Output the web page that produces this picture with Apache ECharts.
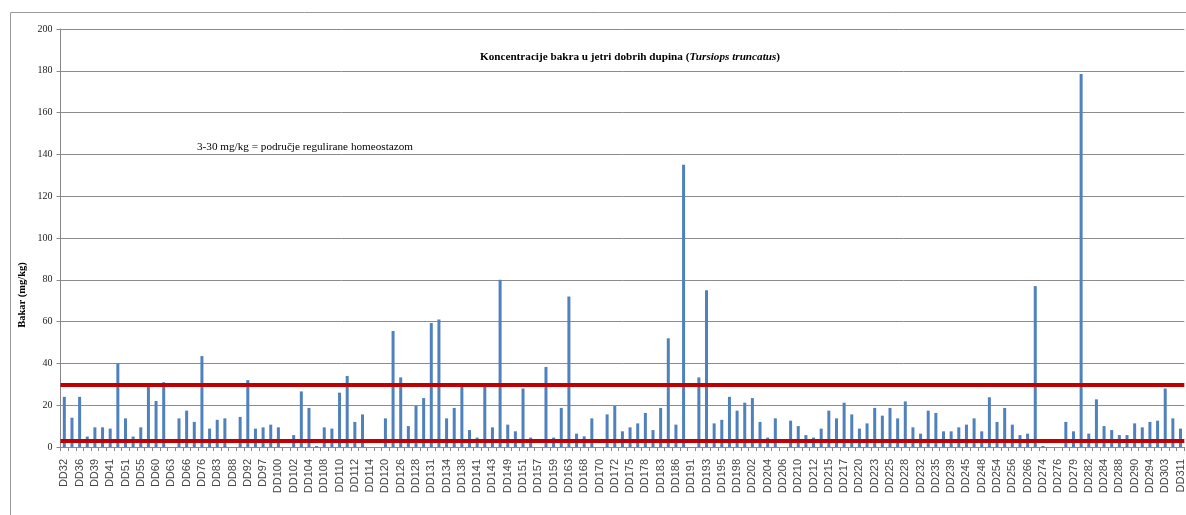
<!DOCTYPE html>
<html><head><meta charset="utf-8">
<script src="https://cdn.jsdelivr.net/npm/echarts@6/dist/echarts.min.js"></script>
<style>html,body{margin:0;padding:0;background:#fff}#c{width:1186px;height:515px}</style>
</head><body><div id="c"></div>
<script>
const categories = [
'DD32','DD34','DD36','DD38','DD39','DD40','DD41','DD45','DD51','DD53','DD55','DD58','DD60','DD61','DD63','DD65','DD66','DD70','DD76','DD80','DD83','DD85','DD88','DD90','DD92','DD95','DD97','DD99',
'DD100','DD101','DD102','DD103','DD104','DD106','DD108','DD109','DD110','DD111','DD112','DD113','DD114','DD117','DD120','DD123','DD126','DD127','DD128','DD130','DD131','DD132','DD134','DD136','DD138','DD140','DD141','DD142','DD143','DD146','DD149','DD150',
'DD151','DD154','DD157','DD158','DD159','DD161','DD163','DD166','DD168','DD169','DD170','DD171','DD172','DD174','DD175','DD177','DD178','DD180','DD183','DD185','DD186','DD189','DD191','DD192','DD193','DD194','DD195','DD197','DD198','DD200',
'DD202','DD203','DD204','DD205','DD206','DD208','DD210','DD211','DD212','DD214','DD215','DD216','DD217','DD219','DD220','DD222','DD223','DD224','DD225','DD227','DD228','DD230','DD232','DD234','DD235','DD237','DD239','DD242','DD245','DD247','DD248','DD250',
'DD254','DD255','DD256','DD260','DD266','DD270','DD274','DD275','DD276','DD278','DD279','DD281','DD282','DD283','DD284','DD286','DD288','DD289','DD290','DD292','DD294','DD300','DD303','DD307','DD311'
];
const copper = [
24,14,24,5,9.4,9.4,8.8,40,13.7,5,9.4,29,22,31,null,13.7,17.4,12,43.5,8.8,13,13.7,null,14.4,32,8.8,9.4,10.7,
9.4,null,5.7,26.6,18.7,0.5,9.4,8.8,26,34,12,15.6,null,null,13.7,55.5,33.3,10,19.6,23.4,59.3,61,13.7,18.7,29,8.1,4.5,29,9.4,80,10.7,7.5,
28,4.5,null,38.3,4.5,18.7,72,6.4,5.1,13.7,null,15.6,19.6,7.5,9.4,11.3,16.3,8.1,18.7,52,10.7,135,null,33.3,75,11.3,13,24,17.4,21.2,
23.4,12,4.5,13.7,null,12.6,10,5.7,4.5,8.8,17.4,13.7,21.2,15.6,8.8,11.3,18.7,15,18.7,13.7,21.8,9.4,6.4,17.4,16.3,7.5,7.5,9.4,10.7,13.7,
7.5,23.8,12,18.7,10.7,5.7,6.4,77,0.5,null,null,12,7.5,178.5,6.4,22.8,10,8.1,5.7,5.7,11.3,9.4,12,12.6,28,13.7,8.8
];
const yTicks = {min:0, max:200, step:20};
const homeostasis = [3, 30];
const titleMain = 'Koncentracije bakra u jetri dobrih dupina (';
const titleSpecies = 'Tursiops truncatus';
const noteText = '3-30 mg/kg = područje regulirane homeostazom';
const yName = 'Bakar (mg/kg)';

const chart = echarts.init(document.getElementById('c'), null, {renderer:'canvas'});
const serif = 'Liberation Serif';
chart.setOption({
  animation:false,
  backgroundColor:'#fff',
  title:{
    text:'{b|'+titleMain+'}{i|'+titleSpecies+'}{b|)}',
    left:625, top:47, textAlign:'center',
    textStyle:{rich:{
      b:{fontFamily:serif,fontWeight:'bold',fontSize:11.2,color:'#000'},
      i:{fontFamily:serif,fontWeight:'bold',fontStyle:'italic',fontSize:11.2,color:'#000'}
    }}
  },
  graphic:[
    {type:'rect',shape:{x:10.5,y:12.5,width:1200,height:520},style:{fill:'none',stroke:'#999',lineWidth:1},silent:true,z:-1},
    {type:'text',x:197,y:142,style:{text:noteText,font:'11.2px "Liberation Serif"',fill:'#000'}},
    {type:'text',x:22,y:295,rotation:Math.PI/2,style:{text:yName,font:'bold 10.5px "Liberation Serif"',fill:'#000',align:'center',verticalAlign:'middle'}}
  ],
  grid:{left:60.5,right:-2,top:29,bottom:68,containLabel:false},
  xAxis:{
    type:'category',data:categories,
    axisLine:{lineStyle:{color:'#888'}},
    axisTick:{show:true,length:4,lineStyle:{color:'#888'},interval:0},
    axisLabel:{rotate:90,interval:1,fontFamily:'Liberation Sans',fontSize:11,color:'#444',margin:12}
  },
  yAxis:{
    type:'value',min:yTicks.min,max:yTicks.max,interval:yTicks.step,
    axisLine:{show:true,lineStyle:{color:'#888'}},
    axisTick:{show:true,length:4,lineStyle:{color:'#888'}},
    splitLine:{lineStyle:{color:'#8c8c8c',width:1}},
    axisLabel:{fontFamily:serif,fontSize:10,color:'#222',margin:8}
  },
  series:[{
    type:'bar',data:copper,barWidth:3,
    itemStyle:{color:'#4F81BD'},
    markLine:{
      silent:true,symbol:'none',label:{show:false},
      lineStyle:{color:'#C00000',width:4,type:'solid'},
      data:homeostasis.map(v=>({yAxis:v}))
    }
  }]
});
</script></body></html>
